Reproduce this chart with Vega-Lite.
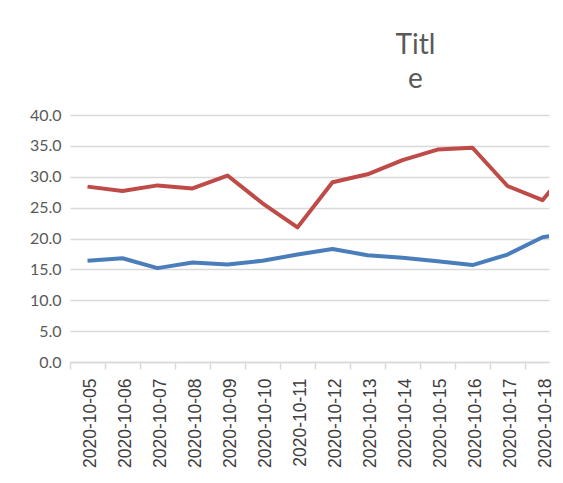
{
  "$schema": "https://vega.github.io/schema/vega-lite/v6.json",
  "autosize": "none",
  "width": 479,
  "height": 247,
  "padding": {"left": 70, "top": 115, "right": 14, "bottom": 121},
  "background": "white",
  "title": {
    "text": ["Titl", "e"],
    "font": "Lato",
    "fontSize": 28,
    "fontWeight": "normal",
    "color": "#595959",
    "lineHeight": 34,
    "anchor": "middle",
    "dx": 106,
    "offset": 13
  },
  "data": {
    "values": [
      {"date": "2020-10-05", "series": "A", "value": 28.4},
      {"date": "2020-10-06", "series": "A", "value": 27.7},
      {"date": "2020-10-07", "series": "A", "value": 28.6},
      {"date": "2020-10-08", "series": "A", "value": 28.1},
      {"date": "2020-10-09", "series": "A", "value": 30.2},
      {"date": "2020-10-10", "series": "A", "value": 25.7},
      {"date": "2020-10-11", "series": "A", "value": 21.8},
      {"date": "2020-10-12", "series": "A", "value": 29.1},
      {"date": "2020-10-13", "series": "A", "value": 30.4},
      {"date": "2020-10-14", "series": "A", "value": 32.7},
      {"date": "2020-10-15", "series": "A", "value": 34.4},
      {"date": "2020-10-16", "series": "A", "value": 34.7},
      {"date": "2020-10-17", "series": "A", "value": 28.5},
      {"date": "2020-10-18", "series": "A", "value": 26.2},
      {"date": "2020-10-19", "series": "A", "value": 33.0},
      {"date": "2020-10-05", "series": "B", "value": 16.4},
      {"date": "2020-10-06", "series": "B", "value": 16.8},
      {"date": "2020-10-07", "series": "B", "value": 15.2},
      {"date": "2020-10-08", "series": "B", "value": 16.1},
      {"date": "2020-10-09", "series": "B", "value": 15.8},
      {"date": "2020-10-10", "series": "B", "value": 16.4},
      {"date": "2020-10-11", "series": "B", "value": 17.4},
      {"date": "2020-10-12", "series": "B", "value": 18.3},
      {"date": "2020-10-13", "series": "B", "value": 17.3},
      {"date": "2020-10-14", "series": "B", "value": 16.9},
      {"date": "2020-10-15", "series": "B", "value": 16.3},
      {"date": "2020-10-16", "series": "B", "value": 15.7},
      {"date": "2020-10-17", "series": "B", "value": 17.4},
      {"date": "2020-10-18", "series": "B", "value": 20.2},
      {"date": "2020-10-19", "series": "B", "value": 21.0}
    ]
  },
  "mark": {"type": "line", "strokeWidth": 4, "clip": true, "strokeJoin": "round"},
  "encoding": {
    "x": {
      "field": "date",
      "type": "temporal",
      "scale": {
        "type": "utc",
        "nice": false,
        "domain": [
          {"utc": true, "year": 2020, "month": 10, "date": 4, "hours": 12},
          {"utc": true, "year": 2020, "month": 10, "date": 18, "hours": 4, "minutes": 27}
        ]
      },
      "axis": {
        "title": null,
        "values": [
          {"utc": true, "year": 2020, "month": 10, "date": 5},
          {"utc": true, "year": 2020, "month": 10, "date": 6},
          {"utc": true, "year": 2020, "month": 10, "date": 7},
          {"utc": true, "year": 2020, "month": 10, "date": 8},
          {"utc": true, "year": 2020, "month": 10, "date": 9},
          {"utc": true, "year": 2020, "month": 10, "date": 10},
          {"utc": true, "year": 2020, "month": 10, "date": 11},
          {"utc": true, "year": 2020, "month": 10, "date": 12},
          {"utc": true, "year": 2020, "month": 10, "date": 13},
          {"utc": true, "year": 2020, "month": 10, "date": 14},
          {"utc": true, "year": 2020, "month": 10, "date": 15},
          {"utc": true, "year": 2020, "month": 10, "date": 16},
          {"utc": true, "year": 2020, "month": 10, "date": 17},
          {"utc": true, "year": 2020, "month": 10, "date": 18}
        ],
        "labelExpr": "utcFormat(datum.value, '%Y-%m-%d')",
        "labelAngle": -90,
        "labelAlign": "right",
        "labelBaseline": "middle",
        "labelFont": "Liberation Sans",
        "labelFontSize": 17.5,
        "labelColor": "#404040",
        "labelPadding": 9,
        "labelOverlap": false,
        "labelFlush": false,
        "labelBound": false,
        "tickOffset": -17.5,
        "labelOffset": 20.5,
        "tickSize": 7,
        "tickColor": "#d9d9d9",
        "tickWidth": 1.5,
        "domainColor": "#d9d9d9",
        "domainWidth": 1.5,
        "grid": false
      }
    },
    "y": {
      "field": "value",
      "type": "quantitative",
      "scale": {"domain": [0, 40], "nice": false},
      "axis": {
        "title": null,
        "values": [0, 5, 10, 15, 20, 25, 30, 35, 40],
        "format": ".1f",
        "labelFont": "Lato",
        "labelFontSize": 16,
        "labelColor": "#595959",
        "labelPadding": 9,
        "ticks": false,
        "domain": false,
        "grid": true,
        "gridColor": "#d9d9d9",
        "gridWidth": 1.5
      }
    },
    "color": {
      "field": "series",
      "type": "nominal",
      "scale": {"domain": ["A", "B"], "range": ["#BE4B48", "#4A7EBB"]},
      "legend": null
    }
  },
  "config": {"view": {"stroke": null}}
}
